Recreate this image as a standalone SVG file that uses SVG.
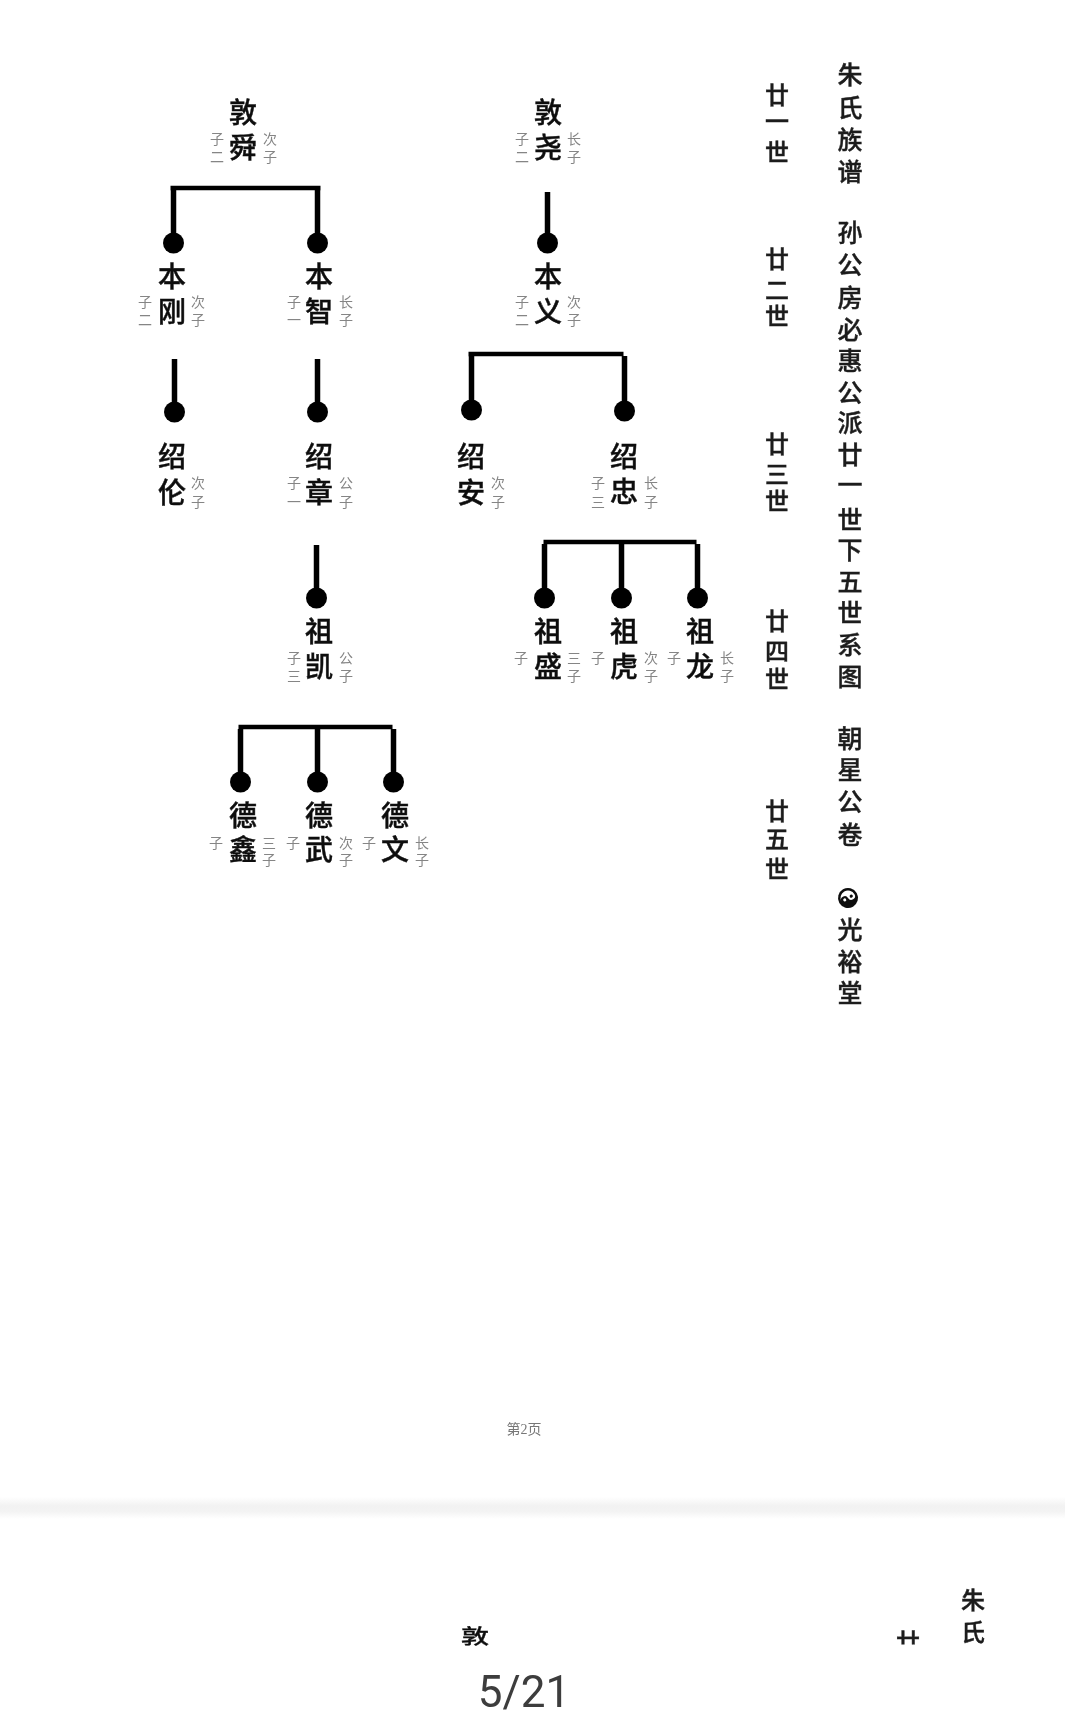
<svg xmlns="http://www.w3.org/2000/svg" width="1065" height="1726" viewBox="0 0 1065 1726">
<style>
text{font-family:"Noto Sans CJK SC","Noto Sans",sans-serif;text-anchor:middle;dominant-baseline:central}
.m{font-size:28px;font-weight:500;fill:#111;stroke:#111;stroke-width:.45}
.s{font-size:14px;fill:#858585;transform:translateY(1.3px)}
.g{font-size:24px;font-weight:500;fill:#1c1c1c;stroke:#1c1c1c;stroke-width:.4}
.t{font-size:25px;font-weight:500;fill:#1c1c1c;stroke:#1c1c1c;stroke-width:.4}
.c line{stroke:#050505;stroke-width:5.5}
.c line.h{stroke-width:4.5}
.c circle{fill:#050505}
</style>
<defs>
<linearGradient id="band" x1="0" y1="0" x2="0" y2="1">
<stop offset="0" stop-color="#ffffff"/><stop offset="0.4" stop-color="#f2f2f2"/><stop offset="0.65" stop-color="#f3f3f3"/><stop offset="1" stop-color="#ffffff"/>
</linearGradient>
<filter id="soft" x="-2%" y="-2%" width="104%" height="104%"><feGaussianBlur stdDeviation="0.45"/></filter>
<clipPath id="cut-nian"><rect x="890" y="1620" width="36" height="24.5"/></clipPath>
</defs>
<rect width="1065" height="1726" fill="#ffffff"/>
<rect id="page-break" x="0" y="1497" width="1065" height="22" fill="url(#band)"/>
<g filter="url(#soft)">
<g id="connectors" class="c" transform="translate(.5 0)">
<line class="h" x1="170" y1="188" x2="320" y2="188"/>
<line x1="173" y1="190" x2="173" y2="243"/><circle cx="173" cy="243" r="10.5"/>
<line x1="317" y1="190" x2="317" y2="243"/><circle cx="317" cy="243" r="10.5"/>
<line x1="547" y1="192" x2="547" y2="243"/><circle cx="547" cy="243" r="10.5"/>
<line x1="174" y1="359" x2="174" y2="412"/><circle cx="174" cy="412" r="10.5"/>
<line x1="317" y1="359" x2="317" y2="412"/><circle cx="317" cy="412" r="10.5"/>
<line class="h" x1="468" y1="354" x2="623" y2="354"/>
<line x1="471" y1="356" x2="471" y2="410"/><circle cx="471" cy="410" r="10.5"/>
<line x1="624" y1="356" x2="624" y2="411"/><circle cx="624" cy="411" r="10.5"/>
<line x1="316" y1="545" x2="316" y2="598"/><circle cx="316" cy="598" r="10.5"/>
<line class="h" x1="543" y1="542" x2="696" y2="542"/>
<line x1="544" y1="544" x2="544" y2="598"/><circle cx="544" cy="598" r="10.5"/>
<line x1="621" y1="544" x2="621" y2="598"/><circle cx="621" cy="598" r="10.5"/>
<line x1="697" y1="544" x2="697" y2="598"/><circle cx="697" cy="598" r="10.5"/>
<line class="h" x1="238" y1="727" x2="392" y2="727"/>
<line x1="240" y1="729" x2="240" y2="782"/><circle cx="240" cy="782" r="10.5"/>
<line x1="317" y1="729" x2="317" y2="782"/><circle cx="317" cy="782" r="10.5"/>
<line x1="393" y1="729" x2="393" y2="782"/><circle cx="393" cy="782" r="10.5"/>
</g>
<g id="nodes" transform="translate(0 -2.5)">
<g id="dun-shun"><text class="m" x="243" y="113">敦</text><text class="m" x="243" y="148">舜</text><text class="s" x="217" y="139">子</text><text class="s" x="217" y="157">二</text><text class="s" x="270" y="139">次</text><text class="s" x="270" y="157">子</text></g>
<g id="dun-yao"><text class="m" x="548" y="113">敦</text><text class="m" x="548" y="148">尧</text><text class="s" x="522" y="139">子</text><text class="s" x="522" y="157">二</text><text class="s" x="574" y="139">长</text><text class="s" x="574" y="157">子</text></g>
<g id="ben-gang"><text class="m" x="172" y="277">本</text><text class="m" x="172" y="312">刚</text><text class="s" x="145" y="302">子</text><text class="s" x="145" y="320">二</text><text class="s" x="198" y="302">次</text><text class="s" x="198" y="320">子</text></g>
<g id="ben-zhi"><text class="m" x="319" y="277">本</text><text class="m" x="319" y="312">智</text><text class="s" x="294" y="302">子</text><text class="s" x="294" y="320">一</text><text class="s" x="346" y="302">长</text><text class="s" x="346" y="320">子</text></g>
<g id="ben-yi"><text class="m" x="548" y="277">本</text><text class="m" x="548" y="312">义</text><text class="s" x="522" y="302">子</text><text class="s" x="522" y="320">二</text><text class="s" x="574" y="302">次</text><text class="s" x="574" y="320">子</text></g>
<g id="shao-lun"><text class="m" x="172" y="457">绍</text><text class="m" x="172" y="493">伦</text><text class="s" x="198" y="483">次</text><text class="s" x="198" y="502">子</text></g>
<g id="shao-zhang"><text class="m" x="319" y="457">绍</text><text class="m" x="319" y="493">章</text><text class="s" x="294" y="483">子</text><text class="s" x="294" y="502">一</text><text class="s" x="346" y="483">公</text><text class="s" x="346" y="502">子</text></g>
<g id="shao-an"><text class="m" x="471" y="457">绍</text><text class="m" x="471" y="493">安</text><text class="s" x="498" y="483">次</text><text class="s" x="498" y="502">子</text></g>
<g id="shao-zhong"><text class="m" x="624" y="457">绍</text><text class="m" x="624" y="492">忠</text><text class="s" x="598" y="483">子</text><text class="s" x="598" y="502">三</text><text class="s" x="651" y="483">长</text><text class="s" x="651" y="502">子</text></g>
<g id="zu-kai"><text class="m" x="319" y="632">祖</text><text class="m" x="319" y="667">凯</text><text class="s" x="294" y="658">子</text><text class="s" x="294" y="676">三</text><text class="s" x="346" y="658">公</text><text class="s" x="346" y="676">子</text></g>
<g id="zu-sheng"><text class="m" x="548" y="632">祖</text><text class="m" x="548" y="667">盛</text><text class="s" x="521" y="658">子</text><text class="s" x="574" y="658">三</text><text class="s" x="574" y="676">子</text></g>
<g id="zu-hu"><text class="m" x="624" y="632">祖</text><text class="m" x="624" y="667">虎</text><text class="s" x="598" y="658">子</text><text class="s" x="651" y="658">次</text><text class="s" x="651" y="676">子</text></g>
<g id="zu-long"><text class="m" x="700" y="632">祖</text><text class="m" x="700" y="667">龙</text><text class="s" x="674" y="658">子</text><text class="s" x="727" y="658">长</text><text class="s" x="727" y="676">子</text></g>
<g id="de-xin"><text class="m" x="243" y="816">德</text><text class="m" x="243" y="850">鑫</text><text class="s" x="216" y="843">子</text><text class="s" x="269" y="843">三</text><text class="s" x="269" y="860">子</text></g>
<g id="de-wu"><text class="m" x="319" y="816">德</text><text class="m" x="319" y="850">武</text><text class="s" x="293" y="843">子</text><text class="s" x="346" y="843">次</text><text class="s" x="346" y="860">子</text></g>
<g id="de-wen"><text class="m" x="395" y="816">德</text><text class="m" x="395" y="850">文</text><text class="s" x="369" y="843">子</text><text class="s" x="422" y="843">长</text><text class="s" x="422" y="860">子</text></g>
</g>
<g id="generations" transform="translate(1 -3)">
<text class="g"><tspan x="776" y="96">廿</tspan><tspan x="776" y="122">一</tspan><tspan x="776" y="153">世</tspan></text>
<text class="g"><tspan x="776" y="260">廿</tspan><tspan x="776" y="291">二</tspan><tspan x="776" y="317">世</tspan></text>
<text class="g"><tspan x="776" y="445">廿</tspan><tspan x="776" y="475">三</tspan><tspan x="776" y="502">世</tspan></text>
<text class="g"><tspan x="776" y="622">廿</tspan><tspan x="776" y="652">四</tspan><tspan x="776" y="680">世</tspan></text>
<text class="g"><tspan x="776" y="812">廿</tspan><tspan x="776" y="840">五</tspan><tspan x="776" y="870">世</tspan></text>
</g>
<g id="title" transform="translate(2 -2.5)">
<text class="t"><tspan x="848" y="75">朱</tspan><tspan x="848" y="108">氏</tspan><tspan x="848" y="140">族</tspan><tspan x="848" y="172">谱</tspan></text>
<text class="t"><tspan x="848" y="233">孙</tspan><tspan x="848" y="265">公</tspan><tspan x="848" y="298">房</tspan><tspan x="848" y="330">必</tspan><tspan x="848" y="361">惠</tspan><tspan x="848" y="393">公</tspan><tspan x="848" y="423">派</tspan><tspan x="848" y="455">廿</tspan><tspan x="848" y="485">一</tspan><tspan x="848" y="520">世</tspan><tspan x="848" y="550">下</tspan><tspan x="848" y="582">五</tspan><tspan x="848" y="613">世</tspan><tspan x="848" y="645">系</tspan><tspan x="848" y="677">图</tspan></text>
<text class="t"><tspan x="848" y="739">朝</tspan><tspan x="848" y="770">星</tspan><tspan x="848" y="802">公</tspan><tspan x="848" y="835">卷</tspan></text>
<text class="t"><tspan x="848" y="930">光</tspan><tspan x="848" y="962">裕</tspan><tspan x="848" y="993">堂</tspan></text>
</g>
<g id="taiji" transform="translate(848 898) rotate(240)">
<circle r="10" fill="#0c0c0c"/>
<path d="M0,-7.5A7.5,7.5 0 0 1 0,7.5A3.75,3.75 0 0 1 0,0A3.75,3.75 0 0 0 0,-7.5Z" fill="#fff"/>
<circle cx="0" cy="-3.75" r="1.5" fill="#fff"/>
<circle cx="0" cy="3.75" r="1.6" fill="#0c0c0c"/>
</g>
<g id="footer">
<text x="524" y="1429" style="font-family:'Liberation Serif','Noto Sans CJK SC',serif;font-size:14px;fill:#777">第2页</text>
<text x="475" y="1635" class="m" transform="translate(475 1635) scale(1 .72) translate(-475 -1635)">敦</text>
<g clip-path="url(#cut-nian)"><text x="908" y="1640" class="g">廿</text></g>
<text class="g" transform="translate(0 -3)"><tspan x="973" y="1601">朱</tspan><tspan x="973" y="1633">氏</tspan></text>
<text x="524" y="1707" style="font-family:Roboto,sans-serif;font-size:44px;fill:#3c3c3c;dominant-baseline:alphabetic">5/21</text>
</g>
</g>
</svg>
